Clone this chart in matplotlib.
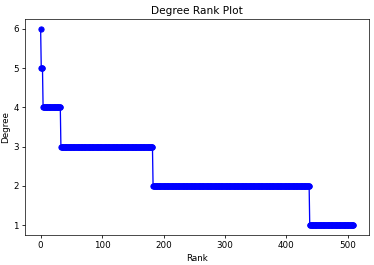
import numpy as np
import matplotlib.pyplot as plt

# degree values and how many nodes have each degree
degrees = [6, 5, 4, 3, 2, 1]
counts = [1, 3, 29, 150, 255, 72]

degree_sequence = []
for d, c in zip(degrees, counts):
    degree_sequence += [d] * c

s = 0.87
plt.rcParams["font.size"] = 10 * s
plt.rcParams["axes.titlesize"] = 12 * s
plt.rcParams["axes.linewidth"] = 0.8 * s
plt.rcParams["xtick.major.size"] = 3.5 * s
plt.rcParams["ytick.major.size"] = 3.5 * s
plt.rcParams["xtick.major.pad"] = 3.5 * s
plt.rcParams["ytick.major.pad"] = 3.5 * s

fig = plt.figure(figsize=(374 / 72, 265 / 72), dpi=72)
ax = fig.add_axes([25 / 374, 1 - 235 / 265, 344 / 374, 216 / 265])
ax.plot(degree_sequence, "b-", marker="o", markersize=6 * s, linewidth=1.5 * s)
ax.set_title("Degree Rank Plot", pad=6 * s)
ax.set_ylabel("Degree", labelpad=4 * s)
ax.set_xlabel("Rank", labelpad=4 * s)
fig.savefig("out.png", dpi=72)
